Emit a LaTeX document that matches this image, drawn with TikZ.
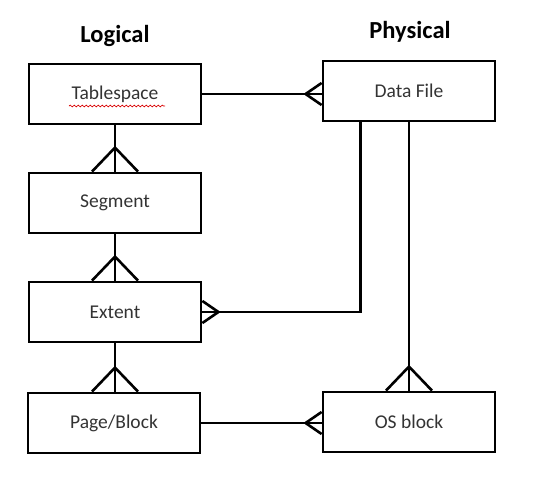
\documentclass[tikz,border=0pt]{standalone}
\usepackage{fontspec}
\setmainfont{Carlito}
\usepackage{tikz}
\usetikzlibrary{ calc, positioning, decorations.pathmorphing }
\tikzset{
x=1pt, y=-1pt, % pixel like units, y going down
entity/.style={draw, line width=2.8pt, minimum width=172pt, minimum height=60pt, inner sep=0pt, text=black!80, font=\fontsize{19.5}{22}\selectfont}, % sets the look of each box
heading/.style={font=\bfseries\fontsize{24.5}{28}\selectfont}, % column titles
link/.style={line width=2.6pt}, % the relation lines
crow/.pic={\draw[line width=2.6pt] (-23pt,0) -- (0,24pt) -- (23pt,0);}, % many side, between the logical boxes
crowsmall/.pic={\draw[line width=2.6pt] (-11pt,0) -- (0,16pt) -- (11pt,0);}, % many side, across the columns
}

\begin{document}
\begin{tikzpicture}
  \useasboundingbox (0,0) rectangle (547,482);
  \node[heading] (logical) at (115,36) {Logical};
  \node[heading] (physical) at (410,32) {Physical};

  \node[entity] (ts) at (115,94) {Tablespace};
  \node[entity] (seg) at (115,203) {Segment};
  \node[entity] (ext) at (115,312) {Extent};
  \node[entity] (pb) at (114,423) {Page/Block};
  \node[entity] (df) at (409,91) {Data File};
  \node[entity] (os) at (409,422) {OS block};
  \coordinate (dfa) at ([xshift=39pt]df.south west);

  % spelling mark under Tablespace
  \draw[red!85!black, line width=0.7pt, decorate, decoration={snake, amplitude=0.9pt, segment length=4pt}] (69,106) -- (165,106);

  \draw[link] (ts.east) -- (ts.east -| df.west);
  \draw[link] (ts.south) -- (seg.north);
  \draw[link] (seg.south) -- (ext.north);
  \draw[link] (ext.south) -- (ext.south |- pb.north);
  \draw[link] (dfa) |- (ext.east);
  \draw[link] (df.south) -- (os.north);
  \draw[link] (pb.east) -- (pb.east -| os.west);

  \pic[rotate=90] at (ts.east -| df.west) {crowsmall};
  \pic at (seg.north) {crow};
  \pic at (ext.north) {crow};
  \pic at (ext.south |- pb.north) {crow};
  \pic[rotate=-90] at (ext.east) {crowsmall};
  \pic at (os.north) {crow};
  \pic[rotate=90] at (pb.east -| os.west) {crowsmall};
\end{tikzpicture}
\end{document}
